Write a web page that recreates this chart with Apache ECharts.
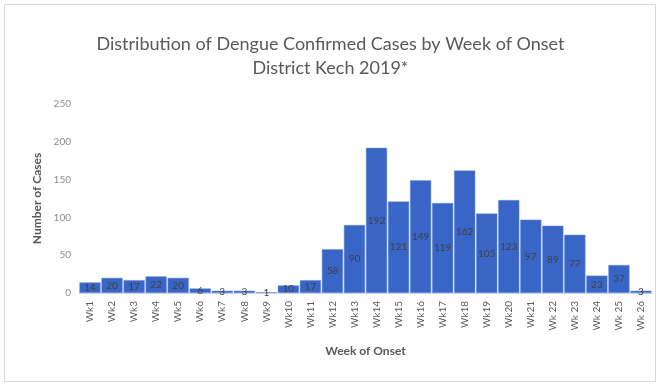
<!DOCTYPE html>
<html>
<head>
<meta charset="utf-8">
<script src="https://cdn.jsdelivr.net/npm/echarts@6/dist/echarts.min.js"></script>
<style>
  html, body { margin: 0; padding: 0; background: #fff; }
  #chart { width: 661px; height: 387px; }
</style>
</head>
<body>
<div id="chart"></div>
<script>
// Weekly confirmed dengue cases, District Kech 2019
const weeks = ['Wk1','Wk2','Wk3','Wk4','Wk5','Wk6','Wk7','Wk8','Wk9','Wk10','Wk11','Wk12','Wk13',
  'Wk14','Wk15','Wk16','Wk17','Wk18','Wk19','Wk20','Wk21','Wk 22','Wk 23','Wk 24','Wk 25','Wk 26'];
const cases = [14, 20, 17, 22, 20, 6, 3, 3, 1, 10, 17, 58, 90,
  192, 121, 149, 119, 162, 105, 123, 97, 89, 77, 23, 37, 3];
const yTicks = [0, 50, 100, 150, 200, 250];

const chart = echarts.init(document.getElementById('chart'), null, { renderer: 'canvas' });
const font = 'Lato, "Open Sans", sans-serif';

chart.setOption({
  animation: false,
  backgroundColor: '#ffffff',
  title: {
    text: 'Distribution of Dengue Confirmed Cases by Week of Onset\nDistrict Kech 2019*',
    left: 'center',
    top: 27,
    textStyle: { fontFamily: font, fontSize: 18, fontWeight: 'normal', color: '#595959', lineHeight: 24 }
  },
  graphic: [{
    type: 'rect',
    shape: { x: 4.5, y: 4.5, width: 651, height: 377 },
    style: { fill: 'none', stroke: '#d9d9d9', lineWidth: 1 }
  }],
  grid: { left: 79, right: 9, top: 104, bottom: 94 },
  xAxis: {
    type: 'category',
    data: weeks,
    name: 'Week of Onset',
    nameLocation: 'middle',
    nameGap: 52,
    nameTextStyle: { fontFamily: font, fontSize: 12, fontWeight: 'bold', color: '#595959' },
    axisLine: { lineStyle: { color: '#d9d9d9' } },
    axisTick: { show: false },
    axisLabel: { rotate: 90, fontFamily: font, fontSize: 10, color: '#595959', interval: 0, margin: 8 }
  },
  yAxis: {
    type: 'value',
    min: yTicks[0],
    max: yTicks[yTicks.length - 1],
    interval: 50,
    name: 'Number of Cases',
    nameLocation: 'middle',
    nameGap: 36,
    nameTextStyle: { fontFamily: font, fontSize: 12, fontWeight: 'bold', color: '#595959' },
    axisLine: { show: false },
    axisTick: { show: false },
    splitLine: { show: false },
    axisLabel: { fontFamily: font, fontSize: 10, color: '#8c8c8c', margin: 8 }
  },
  series: [{
    type: 'bar',
    data: cases,
    barCategoryGap: '4%',
    itemStyle: { color: '#3966c6', borderColor: '#6f93d8', borderWidth: 0.5 },
    label: {
      show: true,
      position: 'inside',
      fontFamily: font,
      fontSize: 10,
      color: '#404040'
    }
  }]
});
</script>
</body>
</html>
